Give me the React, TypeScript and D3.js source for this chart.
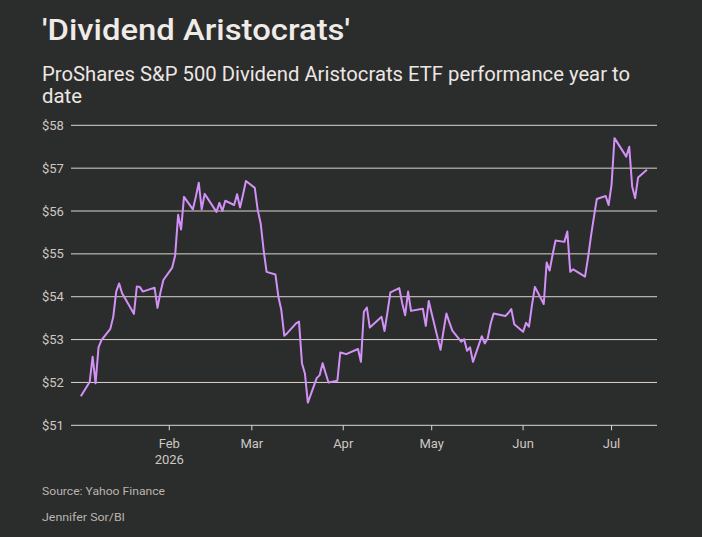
import React from "react";
import * as d3 from "d3";

const dates: string[] = [
  "2026-01-02","2026-01-05","2026-01-06","2026-01-07","2026-01-08","2026-01-09","2026-01-12","2026-01-13","2026-01-14","2026-01-15","2026-01-16","2026-01-20","2026-01-21","2026-01-22","2026-01-23","2026-01-26","2026-01-27","2026-01-28","2026-01-29","2026-01-30",
  "2026-02-02","2026-02-03","2026-02-04","2026-02-05","2026-02-06","2026-02-09","2026-02-10","2026-02-11","2026-02-12","2026-02-13","2026-02-17","2026-02-18","2026-02-19","2026-02-20","2026-02-23","2026-02-24","2026-02-25","2026-02-26","2026-02-27",
  "2026-03-02","2026-03-03","2026-03-04","2026-03-05","2026-03-06","2026-03-09","2026-03-10","2026-03-11","2026-03-12","2026-03-13","2026-03-16","2026-03-17","2026-03-18","2026-03-19","2026-03-20","2026-03-23","2026-03-24","2026-03-25","2026-03-26","2026-03-27","2026-03-30","2026-03-31",
  "2026-04-01","2026-04-02","2026-04-06","2026-04-07","2026-04-08","2026-04-09","2026-04-10","2026-04-13","2026-04-14","2026-04-15","2026-04-16","2026-04-17","2026-04-20","2026-04-21","2026-04-22","2026-04-23","2026-04-24","2026-04-27","2026-04-28","2026-04-29","2026-04-30",
  "2026-05-01","2026-05-04","2026-05-05","2026-05-06","2026-05-07","2026-05-08","2026-05-11","2026-05-12","2026-05-13","2026-05-14","2026-05-15","2026-05-18","2026-05-19","2026-05-20","2026-05-21","2026-05-22","2026-05-26","2026-05-27","2026-05-28","2026-05-29",
  "2026-06-01","2026-06-02","2026-06-03","2026-06-04","2026-06-05","2026-06-08","2026-06-09","2026-06-10","2026-06-11","2026-06-12","2026-06-15","2026-06-16","2026-06-17","2026-06-18","2026-06-22","2026-06-23","2026-06-24","2026-06-25","2026-06-26","2026-06-29","2026-06-30",
  "2026-07-01","2026-07-02","2026-07-06","2026-07-07","2026-07-08","2026-07-09","2026-07-10","2026-07-13",
];

const prices: number[] = [
  51.68,52.01,52.60,51.98,52.82,52.99,53.25,53.53,54.12,54.31,54.08,53.60,54.24,54.23,54.12,54.19,54.21,53.74,54.10,54.39,
  54.68,54.97,55.91,55.57,56.33,56.04,56.33,56.66,56.04,56.40,55.98,56.19,56.00,56.24,56.14,56.39,56.08,56.38,56.70,
  56.54,56.02,55.71,55.09,54.58,54.52,54.00,53.69,53.09,53.15,53.38,53.42,52.45,52.21,51.53,52.10,52.17,52.45,52.22,52.00,52.04,52.70,
  52.68,52.66,52.78,52.48,53.65,53.75,53.28,53.47,53.53,53.20,53.64,54.10,54.20,53.85,53.57,54.12,53.67,53.71,53.72,53.32,53.90,
  53.61,52.76,53.20,53.61,53.40,53.21,52.95,53.01,52.74,52.82,52.48,53.08,52.91,53.03,53.37,53.61,53.55,53.62,53.71,53.36,
  53.18,53.39,53.30,53.80,54.23,53.83,54.80,54.61,54.98,55.31,55.28,55.52,54.58,54.64,54.47,54.90,55.40,55.85,56.28,56.35,56.14,
  56.61,57.70,57.27,57.50,56.57,56.30,56.78,56.96,
];

const yTicks: number[] = [51, 52, 53, 54, 55, 56, 57, 58];
const xTickDates: string[] = ["2026-02-01","2026-03-01","2026-04-01","2026-05-01","2026-06-01","2026-07-01"];
const xTickLabels: string[] = ["Feb", "Mar", "Apr", "May", "Jun", "Jul"];

const title = "'Dividend Aristocrats'";
const subtitleLines = ["ProShares S&P 500 Dividend Aristocrats ETF performance year to", "date"];
const footerLines = ["Source: Yahoo Finance", "Jennifer Sor/BI"];

const W = 702;
const H = 537;
const FONT = "Roboto, 'Noto Sans', sans-serif";
const BG = "#2b2c2c";
const GRID = "#ddd6cd";
const LINE = "#d291f7";

export default function App() {
  const parse = d3.timeParse("%Y-%m-%d");
  const data = dates.map((d, i) => ({ date: parse(d) as Date, value: prices[i] }));

  const x = d3
    .scaleTime()
    .domain([new Date(2025, 11, 29, 16), new Date(2026, 6, 16, 10)])
    .range([71, 657]);
  const y = d3.scaleLinear().domain([51, 58]).range([425.3, 125.3]);

  const line = d3
    .line<{ date: Date; value: number }>()
    .x((d) => x(d.date))
    .y((d) => y(d.value))
    .curve(d3.curveLinear);

  const [x0, x1] = x.range();

  return (
    <svg
      width={W}
      height={H}
      viewBox={`0 0 ${W} ${H}`}
      style={{ position: "absolute", left: 0, top: 0, display: "block", background: BG }}
      fontFamily={FONT}
    >
      <rect x={0} y={0} width={W} height={H} fill={BG} />
      <text x={42} y={40} fill="#efebe7" fontSize={29} fontWeight={500} textLength={308} lengthAdjust="spacingAndGlyphs">
        {title}
      </text>
      <text x={42} y={81} fill="#ebe7e3" fontSize={20} textLength={588} lengthAdjust="spacingAndGlyphs">
        {subtitleLines[0]}
      </text>
      <text x={42} y={103} fill="#ebe7e3" fontSize={20} textLength={40} lengthAdjust="spacingAndGlyphs">
        {subtitleLines[1]}
      </text>

      {yTicks.map((t) => (
        <g key={t}>
          <line x1={x0} x2={x1} y1={y(t)} y2={y(t)} stroke={GRID} strokeWidth={1} />
          <text x={42} y={y(t)} dy="0.35em" fill="#cdc8c3" fontSize={13}>
            {`$${t}`}
          </text>
        </g>
      ))}

      {xTickDates.map((d, i) => {
        const xx = x(parse(d) as Date);
        return (
          <g key={d}>
            <line x1={xx} x2={xx} y1={y(51)} y2={y(51) + 5} stroke={GRID} strokeWidth={1} />
            <text x={xx} y={448} textAnchor="middle" fill="#cdc8c3" fontSize={13}>
              {xTickLabels[i]}
            </text>
            {i === 0 && (
              <text x={xx} y={464} textAnchor="middle" fill="#cdc8c3" fontSize={13}>
                2026
              </text>
            )}
          </g>
        );
      })}

      <path d={line(data) || ""} fill="none" stroke={LINE} strokeWidth={2} strokeLinejoin="round" />

      <text x={42} y={495} fill="#b9b4ae" fontSize={11.5} textLength={123} lengthAdjust="spacingAndGlyphs">
        {footerLines[0]}
      </text>
      <text x={42} y={521} fill="#b9b4ae" fontSize={11.5} textLength={83} lengthAdjust="spacingAndGlyphs">
        {footerLines[1]}
      </text>
    </svg>
  );
}
